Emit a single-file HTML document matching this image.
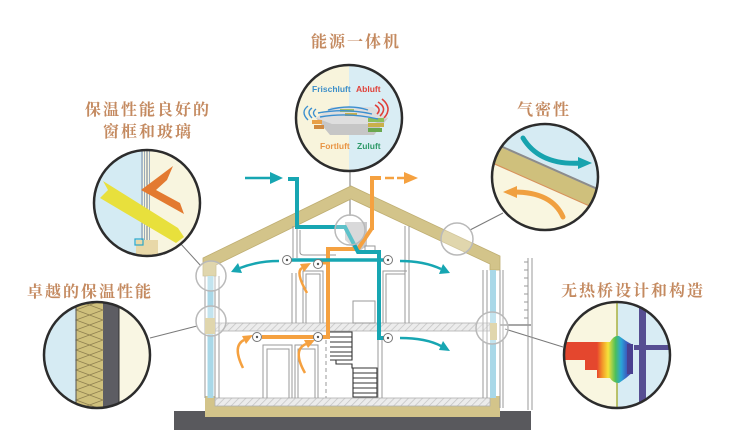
<!DOCTYPE html>
<html><head><meta charset="utf-8"><style>
html,body{margin:0;padding:0;background:#fff;}
svg{display:block;}
.lbl{font-family:"Liberation Serif","Noto Serif CJK SC",serif;font-size:16px;font-weight:bold;fill:#c48a60;letter-spacing:2px;}
.de{font-family:"Liberation Sans",sans-serif;font-size:8.5px;font-weight:bold;}
</style></head><body>
<svg width="740" height="443" viewBox="0 0 740 443" xmlns="http://www.w3.org/2000/svg">
<defs>
<pattern id="hatch" width="5" height="5" patternUnits="userSpaceOnUse" patternTransform="rotate(45)">
<rect width="5" height="5" fill="#ececec"/><line x1="0" y1="0" x2="0" y2="5" stroke="#c4c4c4" stroke-width="1.5"/>
</pattern>
<clipPath id="cC"><circle cx="349" cy="118" r="53"/></clipPath>
<clipPath id="cW"><circle cx="147" cy="203" r="53"/></clipPath>
<clipPath id="cI"><circle cx="97" cy="355" r="53"/></clipPath>
<clipPath id="cA"><circle cx="545" cy="177" r="53"/></clipPath>
<clipPath id="cT"><circle cx="617" cy="355" r="53"/></clipPath>
<linearGradient id="rb" x1="597" y1="0" x2="634" y2="0" gradientUnits="userSpaceOnUse">
<stop offset="0" stop-color="#e8452c"/><stop offset="0.15" stop-color="#f39a2a"/><stop offset="0.3" stop-color="#f6e23a"/>
<stop offset="0.5" stop-color="#4cbf5a"/><stop offset="0.65" stop-color="#2aa6d8"/><stop offset="0.8" stop-color="#3a5fc0"/><stop offset="1" stop-color="#4a3f92"/>
</linearGradient>
</defs>

<!-- Labels -->
<text class="lbl" x="311" y="47">能源一体机</text>
<text class="lbl" x="85" y="115">保温性能良好的</text>
<text class="lbl" x="103" y="137">窗框和玻璃</text>
<text class="lbl" x="27" y="297">卓越的保温性能</text>
<text class="lbl" x="517" y="115">气密性</text>
<text class="lbl" x="561" y="296">无热桥设计和构造</text>

<!-- connector lines -->
<g stroke="#7a7a7a" stroke-width="1" fill="none">
<line x1="180" y1="243" x2="201" y2="266"/>
<line x1="150" y1="338" x2="197" y2="326"/>
<line x1="470" y1="230" x2="503" y2="213"/>
<line x1="505" y1="329" x2="563" y2="347"/>
<line x1="350" y1="171" x2="350" y2="216"/>
</g>

<!-- ground -->
<rect x="174" y="411" width="357" height="19" fill="#59595d"/>
<rect x="205" y="405" width="295" height="12" fill="#d3c48a"/>
<rect x="205" y="396" width="10" height="12" fill="#d3c48a"/>
<rect x="490" y="396" width="10" height="12" fill="#d3c48a"/>
<!-- slabs -->
<rect x="215" y="398" width="275" height="8" fill="url(#hatch)" stroke="#b0b0b0" stroke-width="0.8"/>
<rect x="215" y="323" width="275" height="8" fill="url(#hatch)" stroke="#b0b0b0" stroke-width="0.8"/>
<line x1="500" y1="325" x2="531" y2="325" stroke="#8a8a8a" stroke-width="1.5"/>

<!-- roof -->
<polygon points="203,258 351,186 500,256 500,270 490,270 490,264 351,199 216,265 216,276 203,276" fill="#d3c48a" stroke="#bfae72" stroke-width="0.8"/>
<!-- left wall -->
<g stroke="#9a9a9a" stroke-width="1" fill="none">
<line x1="205" y1="276" x2="205" y2="398"/><line x1="215" y1="276" x2="215" y2="398"/><line x1="219" y1="276" x2="219" y2="398"/>
<line x1="483" y1="270" x2="483" y2="398"/><line x1="487" y1="270" x2="487" y2="398"/>
<line x1="500" y1="270" x2="500" y2="408"/><line x1="503" y1="270" x2="503" y2="408"/>
</g>
<rect x="207.5" y="276" width="6" height="122" fill="#a9d8e8"/>
<rect x="205" y="318" width="10" height="16" fill="#d3c48a"/>
<rect x="490" y="270" width="6" height="128" fill="#a9d8e8"/>
<rect x="490" y="323" width="7" height="17" fill="#d3c48a"/>
<!-- railing -->
<g stroke="#9a9a9a" stroke-width="1">
<line x1="528" y1="258" x2="528" y2="410"/><line x1="532" y1="258" x2="532" y2="410"/>
<line x1="524" y1="262" x2="528" y2="262"/><line x1="524" y1="270" x2="528" y2="270"/><line x1="524" y1="278" x2="528" y2="278"/>
<line x1="524" y1="286" x2="528" y2="286"/><line x1="524" y1="294" x2="528" y2="294"/><line x1="524" y1="302" x2="528" y2="302"/>
<line x1="524" y1="310" x2="528" y2="310"/><line x1="524" y1="318" x2="528" y2="318"/>
</g>

<!-- interior partitions -->
<g stroke="#9a9a9a" stroke-width="1" fill="none">
<line x1="293" y1="226" x2="293" y2="258"/><line x1="297" y1="226" x2="297" y2="258"/>
<path d="M300,230 V252 Q300,255 304,255 H336"/>
<line x1="405" y1="226" x2="405" y2="323"/><line x1="409" y1="226" x2="409" y2="323"/>
<line x1="292" y1="273" x2="292" y2="323"/><line x1="296" y1="273" x2="296" y2="323"/>
<path d="M303,323 V271 H323 V323"/><path d="M306,323 V274 H320 V323"/>
<path d="M383,323 V271 H407"/><path d="M386,323 V274 H405"/>
<rect x="353" y="301" width="22" height="22"/>
<path d="M263,398 V345 H292 V398"/><path d="M267,398 V349 H289 V398"/>
<path d="M295,398 V345 H318 V398"/><path d="M298,398 V349 H315 V398"/>
<line x1="378" y1="340" x2="378" y2="398"/><line x1="382" y1="340" x2="382" y2="398"/>
<line x1="326" y1="340" x2="326" y2="398" stroke-dasharray="4,3"/>
</g>
<!-- stairs -->
<g stroke="#333" stroke-width="1.1" fill="#fff">
<path d="M330,332 H352 V360 H330"/>
<line x1="330" y1="337" x2="352" y2="337"/><line x1="330" y1="342" x2="352" y2="342"/><line x1="330" y1="347" x2="352" y2="347"/><line x1="330" y1="352" x2="352" y2="352"/><line x1="330" y1="356" x2="352" y2="356"/>
<path d="M336,360 V364 H352 V368 H377 V397 H353 V368" fill="#fff"/>
<line x1="353" y1="373" x2="377" y2="373"/><line x1="353" y1="378" x2="377" y2="378"/><line x1="353" y1="383" x2="377" y2="383"/><line x1="353" y1="388" x2="377" y2="388"/><line x1="353" y1="393" x2="377" y2="393"/>
</g>

<!-- HRV unit -->
<polygon points="345,222 367,222 367,246 358,252 345,240" fill="#c9c9cb"/>
<rect x="365" y="246" width="10" height="7" fill="#fff" stroke="#999" stroke-width="1"/>

<!-- ducts -->
<g fill="none" stroke-linejoin="miter">
<path d="M372,230 V178 H381" stroke="#f5a140" stroke-width="4"/>
<path d="M372,228 L358,249 H328 V337 H262" stroke="#f5a140" stroke-width="4"/>
<line x1="318" y1="263" x2="328" y2="263" stroke="#f5a140" stroke-width="3"/>
<path d="M288,179 H297 V227 H345 L358,252 H379 V338 H387" stroke="#17a6b2" stroke-width="4"/>
<line x1="287" y1="260" x2="388" y2="260" stroke="#17a6b2" stroke-width="3.5"/>
</g>
<!-- top arrows -->
<line x1="245" y1="178" x2="272" y2="178" stroke="#17a6b2" stroke-width="2.5"/>
<polygon points="270,172 283,178 270,184" fill="#17a6b2"/>
<line x1="385" y1="178" x2="407" y2="178" stroke="#f5a140" stroke-width="2.5" stroke-dasharray="9,3"/>
<polygon points="404,172 418,178 404,184" fill="#f5a140"/>
<!-- curved arrows -->
<g fill="none" stroke-width="2.5">
<path d="M279,261 Q258,261 240,268" stroke="#17a6b2"/>
<path d="M400,261 Q424,261 441,269" stroke="#17a6b2"/>
<path d="M400,338 Q426,338 441,346" stroke="#17a6b2"/>
<path d="M307,293 Q295,272 302,268" stroke="#f5a140"/>
<path d="M243,368 Q232,346 244,340" stroke="#f5a140"/>
<path d="M305,373 Q292,350 306,344" stroke="#f5a140"/>
</g>
<polygon points="231,272 242,273 238,263" fill="#17a6b2"/>
<polygon points="450,273 439,274 443,264" fill="#17a6b2"/>
<polygon points="450,351 439,350 443,341" fill="#17a6b2"/>
<polygon points="311,263 304,272 300,264" fill="#f5a140"/>
<polygon points="253,335 246,344 242,336" fill="#f5a140"/>
<polygon points="315,340 308,348 304,340" fill="#f5a140"/>
<!-- diffusers -->
<g fill="#fff" stroke="#777" stroke-width="1">
<circle cx="287" cy="260" r="4.5"/><circle cx="388" cy="260" r="4.5"/><circle cx="318" cy="264" r="4.5"/>
<circle cx="257" cy="337" r="4.5"/><circle cx="318" cy="337" r="4.5"/><circle cx="388" cy="338" r="4.5"/>
</g>
<g fill="#555">
<circle cx="287" cy="260" r="1.2"/><circle cx="388" cy="260" r="1.2"/><circle cx="318" cy="264" r="1.2"/>
<circle cx="257" cy="337" r="1.2"/><circle cx="318" cy="337" r="1.2"/><circle cx="388" cy="338" r="1.2"/>
</g>

<!-- magnifier circles -->
<g fill="#ffffff" fill-opacity="0.3" stroke="#b9b9b9" stroke-width="1.5">
<circle cx="350" cy="230" r="15"/>
<circle cx="211" cy="276" r="15"/>
<circle cx="211" cy="321" r="15"/>
<circle cx="457" cy="239" r="16"/>
<circle cx="492" cy="328" r="16"/>
</g>

<!-- Center circle -->
<g clip-path="url(#cC)">
<rect x="290" y="60" width="59" height="120" fill="#f8f4dc"/>
<rect x="349" y="60" width="60" height="120" fill="#d9edf4"/>
<polygon points="316,118 332,107 372,107 388,118 374,135 330,135" fill="#c6c6c6"/>
<polygon points="316,118 332,107 372,107 388,118 372,124 332,124" fill="#dedede"/>
<rect x="368" y="118" width="16" height="4" fill="#8bbf5a"/><rect x="368" y="123" width="16" height="4" fill="#c9b04a"/><rect x="368" y="128" width="14" height="4" fill="#6aa84f"/>
<rect x="340" y="109" width="14" height="3" fill="#a8c060"/><rect x="345" y="113" width="12" height="3" fill="#c9b04a"/>
<rect x="312" y="120" width="10" height="4" fill="#e8a048"/><rect x="314" y="125" width="10" height="4" fill="#d08a40"/>
<g fill="none" stroke="#3b8fd0" stroke-width="1.4">
<path d="M318,113 Q345,108 372,114"/><path d="M320,117 Q348,112 378,119"/><path d="M328,110 Q350,104 368,110"/>
<path d="M312,108 Q306,112 312,118"/><path d="M308,106 Q300,112 308,120"/><path d="M316,109 Q311,113 316,117"/>
</g>
<g fill="none" stroke="#e0403a" stroke-width="1.6">
<path d="M378,102 Q388,108 380,116"/><path d="M382,99 Q393,108 384,118"/><path d="M375,105 Q382,109 377,114"/>
</g>
<text class="de" x="312" y="92" fill="#3d8fc9">Frischluft</text>
<text class="de" x="356" y="92" fill="#e0423a">Abluft</text>
<text class="de" x="320" y="149" fill="#e89444">Fortluft</text>
<text class="de" x="357" y="149" fill="#2f9a6a">Zuluft</text>
</g>
<circle cx="349" cy="118" r="53" fill="none" stroke="#2c2c2c" stroke-width="2.5"/>

<!-- Window circle -->
<g clip-path="url(#cW)">
<rect x="90" y="145" width="53" height="120" fill="#d4ebf3"/>
<rect x="143" y="145" width="65" height="120" fill="#f8f5df"/>
<g stroke-width="1"><line x1="142" y1="145" x2="142" y2="245" stroke="#7a8aa0"/><line x1="144.5" y1="145" x2="144.5" y2="245" stroke="#9ab"/>
<line x1="147" y1="145" x2="147" y2="245" stroke="#6a7a90"/><line x1="149.5" y1="145" x2="149.5" y2="245" stroke="#9ab"/></g>
<polygon points="103,181 178,228 184,237 176,243 100,198 108,190" fill="#e8e03c"/>
<polygon points="141,190 173,166 167,180 156,190 180,203 184,214" fill="#e37a30"/>
<rect x="136" y="240" width="22" height="16" fill="#e8d8a8"/>
<rect x="135" y="239" width="8" height="6" fill="none" stroke="#2aa6c8" stroke-width="1.2"/>
</g>
<circle cx="147" cy="203" r="53" fill="none" stroke="#2c2c2c" stroke-width="2.5"/>

<!-- Insulation circle -->
<g clip-path="url(#cI)">
<rect x="40" y="300" width="36" height="110" fill="#d6ebf3"/>
<rect x="76" y="300" width="27" height="110" fill="#cfc07c"/>
<rect x="103" y="300" width="16" height="110" fill="#5d5d63"/>
<rect x="119" y="300" width="35" height="110" fill="#f9f6e3"/>
<polyline points="76,300 103,310 76,320 103,330 76,340 103,350 76,360 103,370 76,380 103,390 76,400 103,410" fill="none" stroke="#8f8050" stroke-width="0.8"/>
<polyline points="103,300 76,310 103,320 76,330 103,340 76,350 103,360 76,370 103,380 76,390 103,400 76,410" fill="none" stroke="#8f8050" stroke-width="0.8"/>
<line x1="76" y1="300" x2="76" y2="410" stroke="#555" stroke-width="1"/>
<line x1="119" y1="300" x2="119" y2="410" stroke="#333" stroke-width="1"/>
</g>
<circle cx="97" cy="355" r="53" fill="none" stroke="#2c2c2c" stroke-width="2.5"/>

<!-- Airtight circle -->
<g clip-path="url(#cA)">
<rect x="488" y="120" width="115" height="115" fill="#f9f6e0"/>
<polygon points="480,60 620,60 620,200 480,138" fill="#d6ebf3"/>
<polygon points="480,138 620,200 620,219 480,157" fill="#cfc07c"/>
<line x1="480" y1="137" x2="620" y2="199" stroke="#8c8c8c" stroke-width="2"/>
<line x1="480" y1="157.5" x2="620" y2="219.5" stroke="#d6925a" stroke-width="1.2"/>
<path d="M523,138 Q540,166 582,163" fill="none" stroke="#17a3ae" stroke-width="5" stroke-linecap="round"/>
<polygon points="578,157 592,163 578,169" fill="#17a3ae"/>
<path d="M563,217 Q552,192 514,192" fill="none" stroke="#f0a040" stroke-width="5" stroke-linecap="round"/>
<polygon points="517,186 503,192 517,198" fill="#f0a040"/>
</g>
<circle cx="545" cy="177" r="53" fill="none" stroke="#2c2c2c" stroke-width="2.5"/>

<!-- Thermal bridge circle -->
<g clip-path="url(#cT)">
<rect x="560" y="300" width="57" height="112" fill="#f9f6e0"/>
<rect x="617" y="300" width="56" height="112" fill="#d8ecf4"/>
<line x1="617" y1="300" x2="617" y2="412" stroke="#a8b040" stroke-width="1.5"/>
<rect x="555" y="342" width="47" height="18" fill="#e4472e"/>
<rect x="585" y="359" width="17" height="11" fill="#e4472e"/>
<path d="M597,342 L610,342 Q614,335 619,336 L626,341 L633,345 L633,372 L626,378 L619,383 Q613,383 610,378 L597,378 Z" fill="url(#rb)"/>
<rect x="627" y="344" width="6" height="30" fill="#4a4090"/>
<rect x="639" y="298" width="7" height="114" fill="#564e92"/>
<rect x="634" y="345" width="40" height="5" fill="#564e92"/>
</g>
<circle cx="617" cy="355" r="53" fill="none" stroke="#2c2c2c" stroke-width="2.5"/>
</svg>
</body></html>
